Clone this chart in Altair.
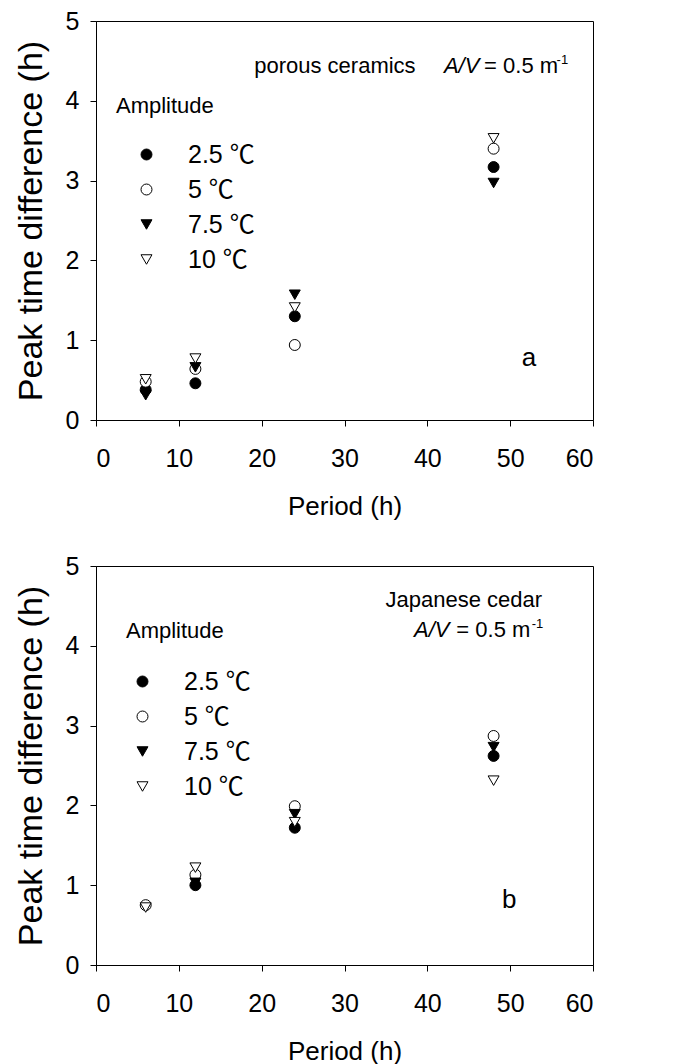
import altair as alt
import pandas as pd

# ---------------- data ----------------
periods = [6, 12, 24, 48]
amplitudes = ["2.5 ℃", "5 ℃", "7.5 ℃", "10 ℃"]

# (a) porous ceramics, A/V = 0.5 m-1
ceramics_2_5 = [0.38, 0.46, 1.30, 3.17]
ceramics_5 = [0.48, 0.64, 0.94, 3.40]
ceramics_7_5 = [0.31, 0.66, 1.57, 2.97]
ceramics_10 = [0.51, 0.77, 1.41, 3.53]

# (b) Japanese cedar, A/V = 0.5 m-1
cedar_2_5 = [None, 1.00, 1.72, 2.62]
cedar_5 = [0.75, 1.13, 1.99, 2.87]
cedar_7_5 = [None, 1.03, 1.89, 2.73]
cedar_10 = [0.72, 1.22, 1.79, 2.31]

x_ticks = [0, 10, 20, 30, 40, 50, 60]
y_ticks = [0, 1, 2, 3, 4, 5]

FONT = "Liberation Sans"
LABEL_FONT = "Liberation Sans, Noto Sans CJK SC"


def make_df(series):
    rows = []
    for amp, vals in zip(amplitudes, series):
        for p, v in zip(periods, vals):
            if v is not None:
                rows.append({"Period": p, "Diff": v, "Amplitude": amp})
    return pd.DataFrame(rows)


def text_layer(x, y, t, size=22, style="normal", align="left"):
    df = pd.DataFrame({"x": [x], "y": [y], "t": [t]})
    return alt.Chart(df).mark_text(
        align=align, baseline="alphabetic", font=FONT, fontSize=size,
        fontStyle=style, color="black"
    ).encode(x="x:Q", y="y:Q", text="t:N")


def panel(series, legend_x, legend_y, sym_offset, title_pad, texts):
    df = make_df(series)
    legend = alt.Legend(
        title="Amplitude", orient="none", legendX=legend_x, legendY=legend_y,
        titleFont=FONT, titleFontSize=22, titleFontWeight="normal", titleColor="black",
        titlePadding=title_pad, labelFont=LABEL_FONT, labelFontSize=25,
        labelColor="black", symbolOffset=sym_offset, labelOffset=29,
        rowPadding=9, symbolSize=120, symbolStrokeColor="black",
        symbolStrokeWidth=1, padding=0,
    )
    points = alt.Chart(df).mark_point(
        filled=True, strokeWidth=1, size=120, opacity=1
    ).encode(
        x=alt.X("Period:Q", scale=alt.Scale(domain=[0, 60], nice=False),
                axis=alt.Axis(values=x_ticks, title="Period (h)", format="d")),
        y=alt.Y("Diff:Q", scale=alt.Scale(domain=[0, 5], nice=False),
                axis=alt.Axis(values=y_ticks, title="Peak time difference (h)", format="d")),
        shape=alt.Shape("Amplitude:N", sort=amplitudes,
                        scale=alt.Scale(domain=amplitudes,
                                        range=["circle", "circle", "triangle-down", "triangle-down"]),
                        legend=legend),
        fill=alt.Fill("Amplitude:N", sort=amplitudes,
                      scale=alt.Scale(domain=amplitudes,
                                      range=["black", "white", "black", "white"]),
                      legend=legend),
        stroke=alt.Stroke("Amplitude:N", sort=amplitudes,
                          scale=alt.Scale(domain=amplitudes,
                                          range=["black", "black", "black", "black"]),
                          legend=legend),
    )
    layers = [points] + [text_layer(*t) for t in texts]
    return alt.layer(*layers).properties(width=497, height=399)


top_texts = [
    (19.1, 4.35, "porous ceramics"),
    (42.0, 4.35, "A/V", 22, "italic"),
    (46.85, 4.35, "= 0.5 m"),
    (55.6, 4.46, "-1", 13),
    (51.4, 0.68, "a", 26),
]
bottom_texts = [
    (53.85, 4.48, "Japanese cedar", 22, "normal", "right"),
    (38.4, 4.11, "A/V", 22, "italic"),
    (43.5, 4.11, "= 0.5 m"),
    (52.6, 4.22, "-1", 13),
    (49.0, 0.72, "b", 26),
]

top = panel([ceramics_2_5, ceramics_5, ceramics_7_5, ceramics_10], 20, 75, 18, 24, top_texts)
bottom = panel([cedar_2_5, cedar_5, cedar_7_5, cedar_10], 30, 55, 4, 26, bottom_texts)

chart = alt.vconcat(top, bottom, spacing=33).resolve_scale(
    shape="independent", fill="independent", stroke="independent"
).resolve_legend(
    shape="independent", fill="independent", stroke="independent"
).properties(
    padding={"left": 5, "top": 0, "right": 5, "bottom": 5}
).configure_axis(
    labelFont=FONT, labelFontSize=25, labelColor="black",
    titleFont=FONT, titleFontWeight="normal", titleColor="black",
    tickColor="black", domainColor="black", tickSize=6, grid=False,
).configure_axisX(
    labelPadding=20, titlePadding=22, titleFontSize=26,
).configure_axisY(
    labelPadding=11, titlePadding=17, titleFontSize=34,
).configure_view(
    stroke="black", strokeWidth=1
)

chart.save("out.html", embed_options={"renderer": "svg", "actions": False})
